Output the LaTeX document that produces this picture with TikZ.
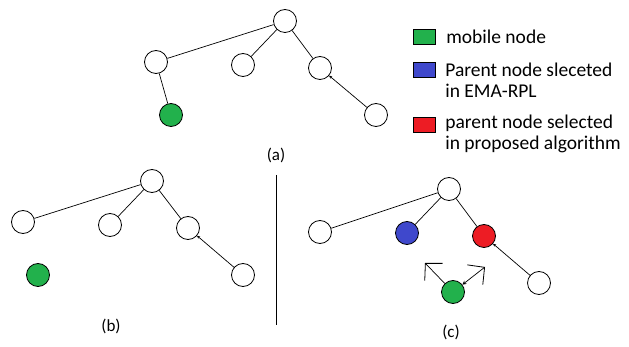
\documentclass[tikz,border=0pt]{standalone}
\usepackage{fontspec}
\setmainfont{Carlito}
\usetikzlibrary{arrows.meta}
\definecolor{mobgreen}{RGB}{34,177,76}
\definecolor{emablue}{RGB}{63,72,204}
\definecolor{proprd}{RGB}{237,28,36}
\tikzstyle{nd}=[shape=circle,
                draw=black,
                minimum size=23pt,
                inner sep=0pt,
                line width=0.8pt]
\tikzstyle{key}=[shape=rectangle,
                draw=black,
                minimum width=22pt,
                minimum height=15pt,
                inner sep=0pt,
                line width=0.9pt]
\tikzstyle{txt}=[font=\fontsize{19.5}{21}\selectfont,
                align=left,
                anchor=west,
                inner sep=0pt]
\tikzstyle{sublbl}=[font=\fontsize{17}{20}\selectfont, inner sep=0pt]
\tikzstyle{barb}=[-{Straight Barb[length=12pt,width=25pt,line width=0.8pt]}]
\tikzstyle{dbarb}=[{Stealth[length=4pt,width=4pt]}-{Straight Barb[length=12pt,width=25pt,line width=0.8pt]}]

\begin{document}
\begin{tikzpicture}[x=1pt,y=-1pt,line width=0.7pt]
\useasboundingbox (0,0) rectangle (629,347);

% tree (a)
\node[nd] (a0) at (285,21)  {};
\node[nd] (a1) at (156,62)  {};
\node[nd] (a2) at (243,65)  {};
\node[nd] (a3) at (320,68)  {};
\node[nd, fill=mobgreen] (a4) at (171,115) {};
\node[nd] (a5) at (376,115) {};
\node[sublbl] (la) at (276,155) {(a)};

\draw (a0) -- (a1);
\draw (a0) -- (a2);
\draw (a0) -- (a3);
\draw (a1) -- (a4);
\draw[{Stealth[length=3pt,width=3pt]}-] (a3) -- (a5);

% tree (b)
\node[nd] (b0) at (152,181) {};
\node[nd] (b1) at (23,222)  {};
\node[nd] (b2) at (110,225) {};
\node[nd] (b3) at (188,228) {};
\node[nd, fill=mobgreen] (b4) at (38,275) {};
\node[nd] (b5) at (243,275) {};
\node[sublbl] (lb) at (111,326) {(b)};

\draw (b0) -- (b1);
\draw (b0) -- (b2);
\draw (b0) -- (b3);
\draw[{Stealth[length=3pt,width=3pt]}-] (b3) -- (b5);

% separator
\coordinate (s1) at (276,175);
\coordinate (s2) at (276,325);
\draw[line width=1pt] (s1) -- (s2);

% tree (c)
\node[nd] (c0) at (449,189) {};
\node[nd] (c1) at (320,232) {};
\node[nd, fill=emablue] (c2) at (407,233) {};
\node[nd, fill=proprd]  (c3) at (484,236) {};
\node[nd] (c5) at (539,283) {};
\node[nd, fill=mobgreen] (c4) at (453,292) {};
\node[sublbl] (lc) at (451,332) {(c)};

\draw (c0) -- (c1);
\draw (c0) -- (c2);
\draw (c0) -- (c3);
\draw[{Stealth[length=3pt,width=3pt]}-] (c3) -- (c5);

% movement of the mobile node
\coordinate (m1) at (425,263);
\coordinate (m2) at (485,267);
\draw[barb] (c4) -- (m1);
\draw[dbarb] (c4) -- (m2);

% legend
\node[key, fill=mobgreen] (k1) at (424,37)  {};
\node[key, fill=emablue]  (k2) at (424,70)  {};
\node[key, fill=proprd]   (k3) at (424,125) {};
\node[txt] (t1) at (446,37)  {mobile node};
\node[txt] (t2) at (445,80)  {Parent node sleceted\\in EMA-RPL};
\node[txt] (t3) at (445,134) {parent node selected\\in proposed algorithm};

\end{tikzpicture}
\end{document}
